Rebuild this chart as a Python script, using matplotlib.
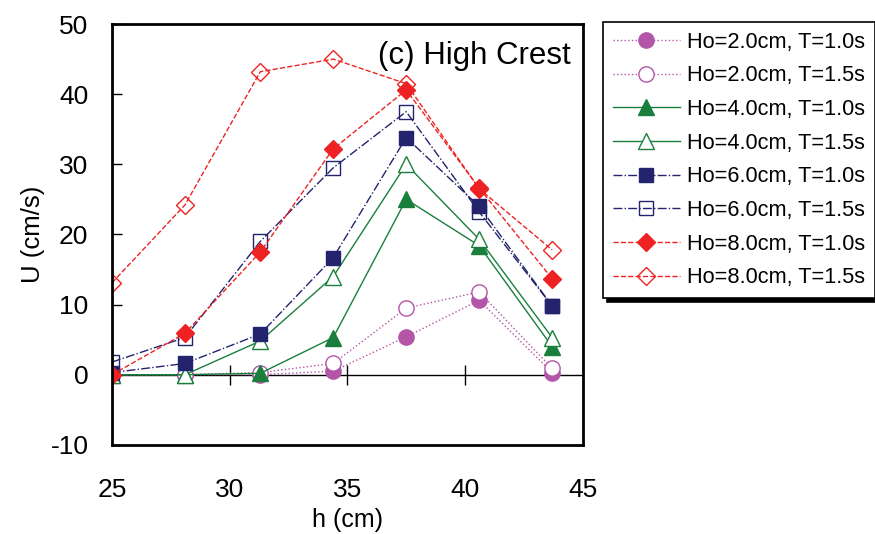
import matplotlib
matplotlib.use('Agg')
import matplotlib.pyplot as plt

plt.rcParams['font.family'] = ['Liberation Sans', 'DejaVu Sans']
plt.rcParams['axes.unicode_minus'] = False

h = [25.0, 28.1, 31.3, 34.4, 37.5, 40.6, 43.7]

u_h2_t10 = [0.0, 0.0, 0.0, 0.5, 5.4, 10.6, 0.3]
u_h2_t15 = [0.0, 0.0, 0.3, 1.6, 9.5, 11.8, 0.9]
u_h4_t10 = [0.0, 0.0, 0.2, 5.3, 25.0, 18.4, 4.0]
u_h4_t15 = [0.0, 0.0, 4.8, 14.0, 30.0, 19.3, 5.3]
u_h6_t10 = [0.3, 1.6, 5.8, 16.7, 33.8, 24.0, 9.8]
u_h6_t15 = [1.8, 5.3, 19.0, 29.5, 37.5, 23.2, 9.8]
u_h8_t10 = [0.0, 5.9, 17.5, 32.2, 40.6, 26.6, 13.7]
u_h8_t15 = [13.1, 24.2, 43.2, 45.0, 41.5, 26.5, 17.8]

labels = ['Ho=2.0cm, T=1.0s', 'Ho=2.0cm, T=1.5s',
          'Ho=4.0cm, T=1.0s', 'Ho=4.0cm, T=1.5s',
          'Ho=6.0cm, T=1.0s', 'Ho=6.0cm, T=1.5s',
          'Ho=8.0cm, T=1.0s', 'Ho=8.0cm, T=1.5s']

purple = '#b455a8'
green = '#1a7f3c'
navy = '#23236e'
red = '#ee2222'

fig = plt.figure(figsize=(8.75, 5.34), dpi=100)
ax = fig.add_axes([0.128, 0.167, 0.538, 0.788])

ax.plot(h, u_h2_t10, ':', color=purple, lw=1, marker='o', ms=11, mfc=purple, mec=purple, label=labels[0])
ax.plot(h, u_h2_t15, ':', color=purple, lw=1, marker='o', ms=11, mfc='white', mec=purple, label=labels[1])
ax.plot(h, u_h4_t10, '-', color=green, lw=1, marker='^', ms=12, mfc=green, mec=green, label=labels[2])
ax.plot(h, u_h4_t15, '-', color=green, lw=1, marker='^', ms=12, mfc='white', mec=green, label=labels[3])
ax.plot(h, u_h6_t10, '-.', color=navy, lw=1, marker='s', ms=10, mfc=navy, mec=navy, label=labels[4])
ax.plot(h, u_h6_t15, '-.', color=navy, lw=1, marker='s', ms=10, mfc='none', mec=navy, label=labels[5])
ax.plot(h, u_h8_t10, '--', color=red, lw=1, marker='D', ms=9, mfc=red, mec=red, label=labels[6])
ax.plot(h, u_h8_t15, '--', color=red, lw=1, marker='D', ms=9, mfc='none', mec=red, label=labels[7])

ax.set_xlim(25, 45)
ax.set_ylim(-10, 50)
ax.set_yticks(range(-10, 51, 10))
ax.set_xticks(range(25, 46, 5))
ax.tick_params(axis='y', direction='in', length=7, width=1, labelsize=19, pad=17, colors='black')
ax.tick_params(axis='x', length=0, labelsize=19, pad=24)
for s in ax.spines.values():
    s.set_linewidth(2)
    s.set_color('black')

# zero line with crossing ticks
zero = ax.secondary_xaxis(10 / 60)
zero.set_xticks([30, 35, 40])
zero.tick_params(axis='x', direction='inout', length=15, width=1, labelbottom=False, labeltop=False)
zero.spines['bottom'].set_linewidth(1)

ax.set_xlabel('h (cm)', fontsize=18, labelpad=4)
ax.set_ylabel('U (cm/s)', fontsize=18.5, labelpad=4)
ax.text(0.975, 0.96, '(c) High Crest', transform=ax.transAxes, ha='right', va='top', fontsize=22.5)

leg = fig.legend(loc='upper left', bbox_to_anchor=(0.689, 0.959), borderaxespad=0, fontsize=15.7,
                 handlelength=3.1, labelspacing=0.58, borderpad=0.45, handletextpad=0.3,
                 fancybox=False, edgecolor='black', framealpha=1,
                 shadow={'color': 'black', 'alpha': 1, 'ox': 3, 'oy': -3})
leg.get_frame().set_linewidth(1.2)

fig.savefig('out.png', dpi=100)
